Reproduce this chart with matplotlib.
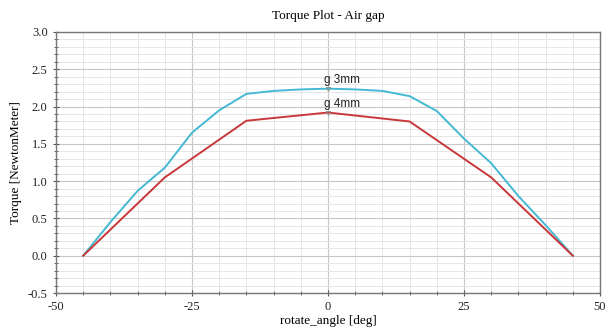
"""Torque versus rotor angle for two air gap sizes."""

import matplotlib.pyplot as plt
from matplotlib.ticker import MultipleLocator

# rotate_angle sweep, deg
angle_3mm = [-45, -40, -35, -30, -25, -20, -15, -10, -5, 0, 5, 10, 15, 20, 25, 30, 35, 40, 45]
torque_3mm = [0.0, 0.45, 0.87, 1.18, 1.65, 1.95, 2.17, 2.21, 2.23, 2.24, 2.23, 2.21, 2.14, 1.94,
              1.57, 1.24, 0.80, 0.41, 0.0]

angle_4mm = [-45, -30, -15, 0, 15, 30, 45]
torque_4mm = [0.0, 1.05, 1.81, 1.92, 1.80, 1.05, 0.0]

label_3mm = "g 3mm"
label_4mm = "g 4mm"

SERIF = ["Liberation Serif", "DejaVu Serif"]
SANS = ["Liberation Sans", "DejaVu Sans"]


def main() -> None:
    plt.rcParams["axes.unicode_minus"] = False

    fig = plt.figure(figsize=(6.15, 3.30), dpi=100)
    ax = fig.add_axes([56 / 615, 37 / 330, 544 / 615, 261 / 330])

    ax.plot(angle_3mm, torque_3mm, color="#45b9d3", lw=1.4)
    ax.plot(angle_4mm, torque_4mm, color="#c8373a", lw=1.4)

    # curve labels at the peak with a small marker
    for xs, ys, lab in [(angle_3mm, torque_3mm, label_3mm),
                        (angle_4mm, torque_4mm, label_4mm)]:
        i = xs.index(0)
        ax.plot(xs[i], ys[i], marker="v", ms=3, color="#888888", mfc="none", mew=0.6)
        ax.text(xs[i] - 0.8, ys[i] + 0.04, lab, family=SANS, fontsize=8.5,
                ha="left", va="bottom", color="#222222")

    ax.set_xlim(-50, 50)
    ax.set_ylim(-0.5, 3.0)
    ax.xaxis.set_major_locator(MultipleLocator(25))
    ax.xaxis.set_minor_locator(MultipleLocator(5))
    ax.yaxis.set_major_locator(MultipleLocator(0.5))
    ax.yaxis.set_minor_locator(MultipleLocator(0.1))

    ax.grid(which="major", color="#c8c8c8", lw=0.8)
    ax.grid(which="minor", color="#e6e6e6", lw=0.7)
    ax.set_axisbelow(True)

    for s in ax.spines.values():
        s.set_color("#777777")
        s.set_linewidth(1.0)

    ax.tick_params(which="both", direction="inout", colors="#555555", labelcolor="#222222")
    ax.tick_params(which="major", length=5, labelsize=9)
    ax.tick_params(which="minor", length=3)
    for lab in ax.get_xticklabels() + ax.get_yticklabels():
        lab.set_family(SERIF)

    ax.set_xlabel("rotate_angle [deg]", family=SERIF, fontsize=9.5, labelpad=1)
    ax.set_ylabel("Torque [NewtonMeter]", family=SERIF, fontsize=9.5, labelpad=4)
    ax.set_title("Torque Plot - Air gap", family=SERIF, fontsize=9.5, pad=9)

    fig.savefig("out.png", dpi=100)
    plt.close(fig)


if __name__ == "__main__":
    main()
